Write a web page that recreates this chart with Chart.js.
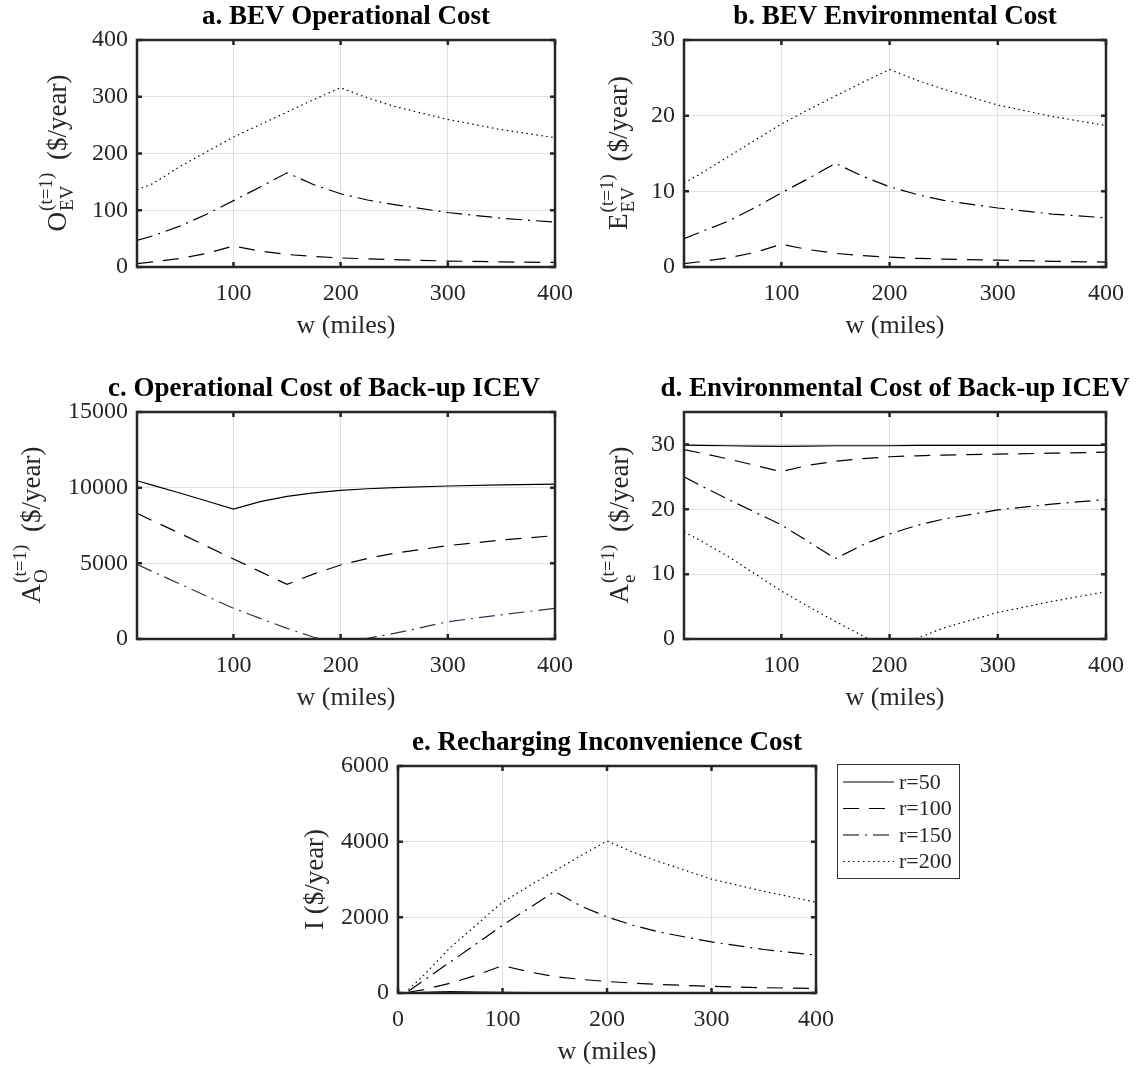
<!DOCTYPE html>
<html>
<head>
<meta charset="utf-8">
<script src="https://cdn.jsdelivr.net/npm/chart.js@4.4.1/dist/chart.umd.min.js"></script>
<style>
  body { margin: 0; background: #fff; width: 1141px; height: 1068px; position: relative; overflow: hidden; }
  .panel { position: absolute; }
</style>
</head>
<body>
<div class="panel" style="left:0;top:0;width:580px;height:350px"><canvas id="chartA"></canvas></div>
<div class="panel" style="left:570px;top:0;width:571px;height:350px"><canvas id="chartB"></canvas></div>
<div class="panel" style="left:0;top:350px;width:580px;height:370px"><canvas id="chartC"></canvas></div>
<div class="panel" style="left:570px;top:350px;width:571px;height:370px"><canvas id="chartD"></canvas></div>
<div class="panel" style="left:290px;top:715px;width:720px;height:353px"><canvas id="chartE"></canvas></div>

<script>
// ── DATA ────────────────────────────────────────────────────
// trip distance w (miles), shared by every series
const W = [10, 25, 50, 75, 100, 125, 150, 175, 200, 225, 250, 300, 350, 400];
const R_LABELS = ['r=50', 'r=100', 'r=150', 'r=200'];

// a. BEV operational cost
const opEV_dash    = [6, 9, 15, 24, 37, 28, 22, 18.5, 16, 14.5, 13, 10.5, 9, 8];
const opEV_dashdot = [47, 55, 72, 93, 117, 141, 166, 145, 129, 118, 110, 96, 86, 79];
const opEV_dot     = [136, 147, 177, 203, 229, 251, 273, 295, 316, 298, 283, 260, 242, 228];

// b. BEV environmental cost
const envEV_dash    = [0.45, 0.7, 1.2, 1.9, 3.0, 2.3, 1.8, 1.5, 1.3, 1.15, 1.05, 0.9, 0.75, 0.65];
const envEV_dashdot = [3.75, 4.6, 6.0, 7.8, 9.8, 11.7, 13.7, 12.0, 10.6, 9.6, 8.8, 7.8, 7.0, 6.5];
const envEV_dot     = [11.1, 12.3, 14.5, 16.7, 18.9, 20.8, 22.6, 24.4, 26.1, 24.7, 23.5, 21.4, 19.9, 18.7];

// c. operational cost of back-up ICEV
const opICE_solid   = [10460, 10150, 9650, 9120, 8590, 9080, 9420, 9650, 9820, 9930, 10000, 10110, 10190, 10240];
const opICE_dash    = [8300, 7800, 6980, 6130, 5290, 4450, 3610, 4300, 4890, 5320, 5660, 6170, 6540, 6830];
const opICE_dashdot = [4930, 4440, 3640, 2830, 2030, 1360, 700, 115, -350, 40, 370, 1140, 1600, 2030];

// d. environmental cost of back-up ICEV
const envICE_solid   = [29.9, 29.85, 29.8, 29.75, 29.7, 29.75, 29.8, 29.8, 29.8, 29.85, 29.85, 29.85, 29.85, 29.85];
const envICE_dash    = [29.2, 28.7, 27.8, 26.8, 25.8, 26.8, 27.4, 27.8, 28.1, 28.25, 28.35, 28.5, 28.65, 28.8];
const envICE_dashdot = [25.0, 23.7, 21.6, 19.6, 17.6, 15.0, 12.4, 14.5, 16.2, 17.5, 18.5, 19.9, 20.8, 21.5];
const envICE_dot     = [16.5, 15.2, 12.8, 10.1, 7.4, 5.0, 2.7, 0.5, -1.5, 0.1, 1.7, 4.1, 5.8, 7.3];

// e. recharging inconvenience cost
const inc_r50  = [0, 15, 40, 25, 15, 10, 8, 6, 5, 4, 4, 3, 3, 2];
const inc_r100 = [20, 90, 260, 470, 725, 560, 435, 360, 305, 260, 225, 175, 140, 120];
const inc_r150 = [45, 340, 820, 1300, 1790, 2240, 2680, 2300, 2010, 1790, 1610, 1350, 1150, 1000];
const inc_r200 = [90, 480, 1200, 1800, 2400, 2820, 3230, 3630, 4020, 3720, 3470, 3010, 2690, 2400];

// tick labels
const X_TICKS   = [100, 200, 300, 400];
const X_TICKS_E = [0, 100, 200, 300, 400];
const Y_TICKS_A = [0, 100, 200, 300, 400];
const Y_TICKS_B = [0, 10, 20, 30];
const Y_TICKS_C = [0, 5000, 10000, 15000];
const Y_TICKS_D = [0, 10, 20, 30];
const Y_TICKS_E = [0, 2000, 4000, 6000];

// ── STYLE ───────────────────────────────────────────────────
const SERIF = '"Liberation Serif", "Times New Roman", serif';
const INK = '#262626';
const GRID = 'rgba(38,38,38,0.14)';
const DASH = { solid: [], dash: [16, 10], dashdot: [16, 6, 2, 6], dot: [1.5, 3.5] };
const Y_W = 100, X_H = 75;

// ── FRAME / LABEL PLUGIN ───────────────────────────────────
function drawYLabel(ctx, area, o) {
  const big = `27px ${SERIF}`, small = `19px ${SERIF}`;
  ctx.save();
  ctx.translate(o.x, (area.top + area.bottom) / 2);
  ctx.rotate(-Math.PI / 2);
  ctx.fillStyle = INK;
  ctx.textAlign = 'left';
  ctx.textBaseline = 'alphabetic';
  ctx.font = big;
  const wMain = ctx.measureText(o.main).width;
  const wTail = o.tail ? ctx.measureText(o.tail).width : 0;
  ctx.font = small;
  const wScr = Math.max(o.sup ? ctx.measureText(o.sup).width : 0, o.sub ? ctx.measureText(o.sub).width : 0);
  const gap = o.tail ? 6 : 0;
  let x = -(wMain + wScr + gap + wTail) / 2;
  ctx.font = big;
  ctx.fillText(o.main, x, 0);
  x += wMain + 1;
  ctx.font = small;
  if (o.sup) ctx.fillText(o.sup, x, -14);
  if (o.sub) ctx.fillText(o.sub, x, 7);
  x += wScr + gap;
  ctx.font = big;
  if (o.tail) ctx.fillText(o.tail, x, 0);
  ctx.restore();
}

function drawLegend(ctx, chart, lg) {
  ctx.save();
  ctx.strokeStyle = '#333';
  ctx.lineWidth = 1;
  ctx.strokeRect(lg.x + 0.5, lg.y + 0.5, lg.w, lg.h);
  ctx.font = `22px ${SERIF}`;
  ctx.fillStyle = INK;
  ctx.textBaseline = 'middle';
  chart.data.datasets.forEach((ds, i) => {
    const y = lg.y + 18 + i * 26.5;
    ctx.beginPath();
    ctx.setLineDash(ds.borderDash);
    ctx.strokeStyle = ds.borderColor;
    ctx.lineWidth = 1.2;
    ctx.moveTo(lg.x + 6, y);
    ctx.lineTo(lg.x + 57, y);
    ctx.stroke();
    ctx.setLineDash([]);
    ctx.fillText(ds.label, lg.x + 62, y + 1);
  });
  ctx.restore();
}

const framePlugin = {
  id: 'frame',
  afterDatasetsDraw(chart, args, opts) {
    const { ctx, chartArea: a, scales } = chart;
    ctx.save();
    // inward tick marks on all four sides
    ctx.strokeStyle = INK;
    ctx.lineWidth = 2.5;
    ctx.beginPath();
    scales.x.ticks.forEach(t => {
      const px = scales.x.getPixelForValue(t.value);
      ctx.moveTo(px, a.bottom); ctx.lineTo(px, a.bottom - 5);
      ctx.moveTo(px, a.top);    ctx.lineTo(px, a.top + 5);
    });
    scales.y.ticks.forEach(t => {
      const py = scales.y.getPixelForValue(t.value);
      ctx.moveTo(a.left, py);  ctx.lineTo(a.left + 5, py);
      ctx.moveTo(a.right, py); ctx.lineTo(a.right - 5, py);
    });
    ctx.stroke();
    ctx.strokeRect(a.left, a.top, a.right - a.left, a.bottom - a.top);
    // panel title
    ctx.fillStyle = '#000';
    ctx.font = `bold 27px ${SERIF}`;
    ctx.textAlign = 'center';
    ctx.textBaseline = 'middle';
    ctx.fillText(opts.title, (a.left + a.right) / 2 + (opts.titleDx || 0), a.top - 23);
    ctx.restore();
    drawYLabel(ctx, a, opts.ylabel);
    if (opts.legend) drawLegend(ctx, chart, opts.legend);
  }
};

// ── CHART FACTORY ───────────────────────────────────────────
function makePanel(id, cfg) {
  const cv = document.getElementById(id);
  const cw = cv.parentElement.clientWidth, ch = cv.parentElement.clientHeight;
  const [L, T, R, B] = cfg.area;
  const tickFont = { family: SERIF, size: 24 };
  return new Chart(cv, {
    type: 'line',
    data: {
      datasets: cfg.series.map(s => ({
        label: s.label,
        data: W.map((w, i) => ({ x: w, y: s.data[i] })),
        borderColor: s.color || '#000',
        borderWidth: 1.2,
        borderDash: DASH[s.style],
        pointRadius: 0,
        tension: 0,
        fill: false
      }))
    },
    options: {
      responsive: true,
      maintainAspectRatio: false,
      animation: false,
      events: [],
      layout: { padding: { left: L - Y_W, top: T, right: cw - R, bottom: ch - B - X_H } },
      plugins: {
        legend: { display: false },
        tooltip: { enabled: false },
        frame: cfg.frame
      },
      scales: {
        x: {
          type: 'linear',
          min: cfg.xMin, max: 400,
          afterBuildTicks: s => { s.ticks = cfg.xTicks.map(v => ({ value: v })); },
          afterFit: s => { s.height = X_H; s.paddingLeft = 0; s.paddingRight = 0; },
          grid: { color: GRID, lineWidth: 1, drawTicks: false },
          border: { display: false },
          ticks: { color: INK, font: tickFont, padding: 12, maxRotation: 0, autoSkip: false, callback: v => String(v) },
          title: { display: true, text: 'w (miles)', color: INK, font: { family: SERIF, size: 26 }, padding: 0 }
        },
        y: {
          min: cfg.yMin, max: cfg.yMax,
          afterBuildTicks: s => { s.ticks = cfg.yTicks.map(v => ({ value: v })); },
          afterFit: s => { s.width = Y_W; s.paddingTop = 0; s.paddingBottom = 0; },
          grid: { color: GRID, lineWidth: 1, drawTicks: false },
          border: { display: false },
          ticks: { color: INK, font: tickFont, padding: 9, callback: v => String(v) }
        }
      }
    },
    plugins: [framePlugin]
  });
}

const SUP = '(t=1)';

makePanel('chartA', {
  area: [137, 40, 555, 267], xMin: 10, xTicks: X_TICKS, yMin: 0, yMax: 400, yTicks: Y_TICKS_A,
  series: [
    { label: R_LABELS[1], data: opEV_dash, style: 'dash' },
    { label: R_LABELS[2], data: opEV_dashdot, style: 'dashdot' },
    { label: R_LABELS[3], data: opEV_dot, style: 'dot' }
  ],
  frame: { title: 'a. BEV Operational Cost', ylabel: { x: 66, main: 'O', sup: SUP, sub: 'EV', tail: ' ($/year)' } }
});

makePanel('chartB', {
  area: [114, 40, 536, 267], xMin: 10, xTicks: X_TICKS, yMin: 0, yMax: 30, yTicks: Y_TICKS_B,
  series: [
    { label: R_LABELS[1], data: envEV_dash, style: 'dash' },
    { label: R_LABELS[2], data: envEV_dashdot, style: 'dashdot' },
    { label: R_LABELS[3], data: envEV_dot, style: 'dot' }
  ],
  frame: { title: 'b. BEV Environmental Cost', ylabel: { x: 57, main: 'E', sup: SUP, sub: 'EV', tail: ' ($/year)' } }
});

makePanel('chartC', {
  area: [137, 62, 555, 289], xMin: 10, xTicks: X_TICKS, yMin: 0, yMax: 15000, yTicks: Y_TICKS_C,
  series: [
    { label: R_LABELS[0], data: opICE_solid, style: 'solid' },
    { label: R_LABELS[1], data: opICE_dash, style: 'dash' },
    { label: R_LABELS[2], data: opICE_dashdot, style: 'dashdot', color: '#3b2d4f' }
  ],
  frame: { title: 'c. Operational Cost of Back-up ICEV', titleDx: -22, ylabel: { x: 40, main: 'A', sup: SUP, sub: 'O', tail: ' ($/year)' } }
});

makePanel('chartD', {
  area: [114, 62, 536, 289], xMin: 10, xTicks: X_TICKS, yMin: 0, yMax: 35, yTicks: Y_TICKS_D,
  series: [
    { label: R_LABELS[0], data: envICE_solid, style: 'solid' },
    { label: R_LABELS[1], data: envICE_dash, style: 'dash' },
    { label: R_LABELS[2], data: envICE_dashdot, style: 'dashdot' },
    { label: R_LABELS[3], data: envICE_dot, style: 'dot' }
  ],
  frame: { title: 'd. Environmental Cost of Back-up ICEV', ylabel: { x: 58, main: 'A', sup: SUP, sub: 'e', tail: ' ($/year)' } }
});

makePanel('chartE', {
  area: [108, 51, 526, 278], xMin: 0, xTicks: X_TICKS_E, yMin: 0, yMax: 6000, yTicks: Y_TICKS_E,
  series: [
    { label: R_LABELS[0], data: inc_r50, style: 'solid' },
    { label: R_LABELS[1], data: inc_r100, style: 'dash' },
    { label: R_LABELS[2], data: inc_r150, style: 'dashdot' },
    { label: R_LABELS[3], data: inc_r200, style: 'dot' }
  ],
  frame: {
    title: 'e. Recharging Inconvenience Cost',
    ylabel: { x: 33, main: 'I ($/year)' },
    legend: { x: 547, y: 49, w: 122, h: 114 }
  }
});
</script>
</body>
</html>
